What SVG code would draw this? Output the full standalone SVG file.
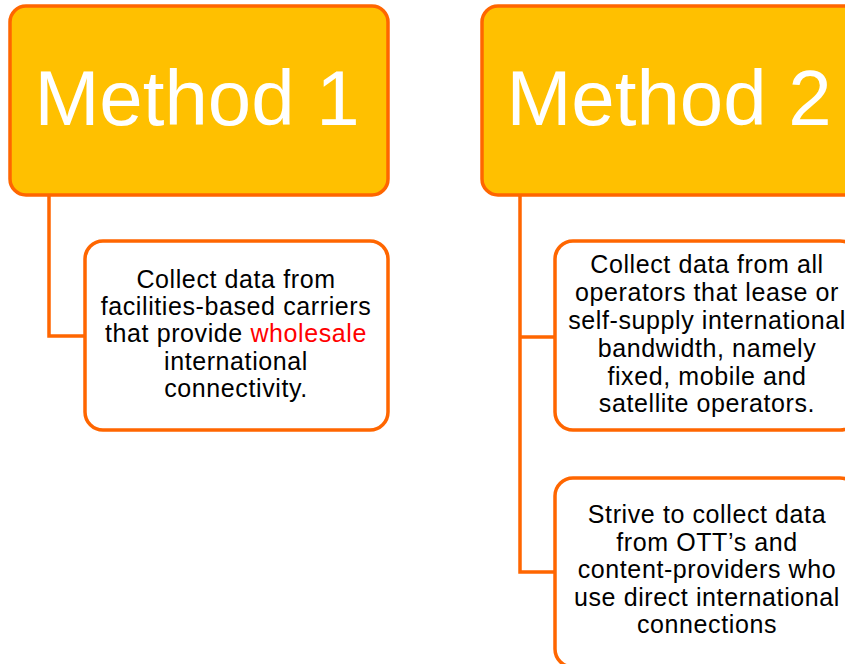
<svg xmlns="http://www.w3.org/2000/svg" width="845" height="664" viewBox="0 0 845 664">
<style>
.head{fill:#FFC000;stroke:#FF6600;stroke-width:3.5}
.child{fill:#FFFFFF;stroke:#FF6600;stroke-width:3.5}
.conn{fill:none;stroke:#FF6600;stroke-width:3.5}
.ht{font-family:"Liberation Sans",Arial,sans-serif;font-size:78px;fill:#FFFFFF;text-anchor:middle}
.ct{font-family:"Liberation Sans",Arial,sans-serif;font-size:25px;letter-spacing:0.6px;fill:#000000;text-anchor:middle}
.red{fill:#FF0000}
</style>
<rect width="845" height="664" fill="#FFFFFF"/>
<g id="connectors">
<path class="conn" d="M49,195 V336 H85"/>
<path class="conn" d="M520,195 V572 H555 M520,337 H555"/>
</g>
<g id="method1">
<rect class="head" x="10" y="6" width="378" height="189" rx="16"/>
<text class="ht" x="197" y="125">Method 1</text>
</g>
<g id="method2">
<rect class="head" x="482" y="6" width="378" height="189" rx="16"/>
<text class="ht" x="669" y="125">Method 2</text>
</g>
<g id="m1-child">
<rect class="child" x="85" y="241" width="303" height="189" rx="18"/>
<text class="ct" x="236" y="288">Collect data from</text>
<text class="ct" x="236" y="315">facilities-based carriers</text>
<text class="ct" x="236" y="342">that provide <tspan class="red">wholesale</tspan></text>
<text class="ct" x="236" y="370">international</text>
<text class="ct" x="236" y="397">connectivity.</text>
</g>
<g id="m2-child1">
<rect class="child" x="555" y="241" width="303" height="189" rx="18"/>
<text class="ct" x="707" y="273">Collect data from all</text>
<text class="ct" x="707" y="301">operators that lease or</text>
<text class="ct" x="707" y="329">self-supply international</text>
<text class="ct" x="707" y="357">bandwidth, namely</text>
<text class="ct" x="707" y="385">fixed, mobile and</text>
<text class="ct" x="707" y="412">satellite operators.</text>
</g>
<g id="m2-child2">
<rect class="child" x="555" y="478" width="303" height="189" rx="18"/>
<text class="ct" x="707" y="523">Strive to collect data</text>
<text class="ct" x="707" y="551">from OTT’s and</text>
<text class="ct" x="707" y="578">content-providers who</text>
<text class="ct" x="707" y="606">use direct international</text>
<text class="ct" x="707" y="633">connections</text>
</g>
</svg>
